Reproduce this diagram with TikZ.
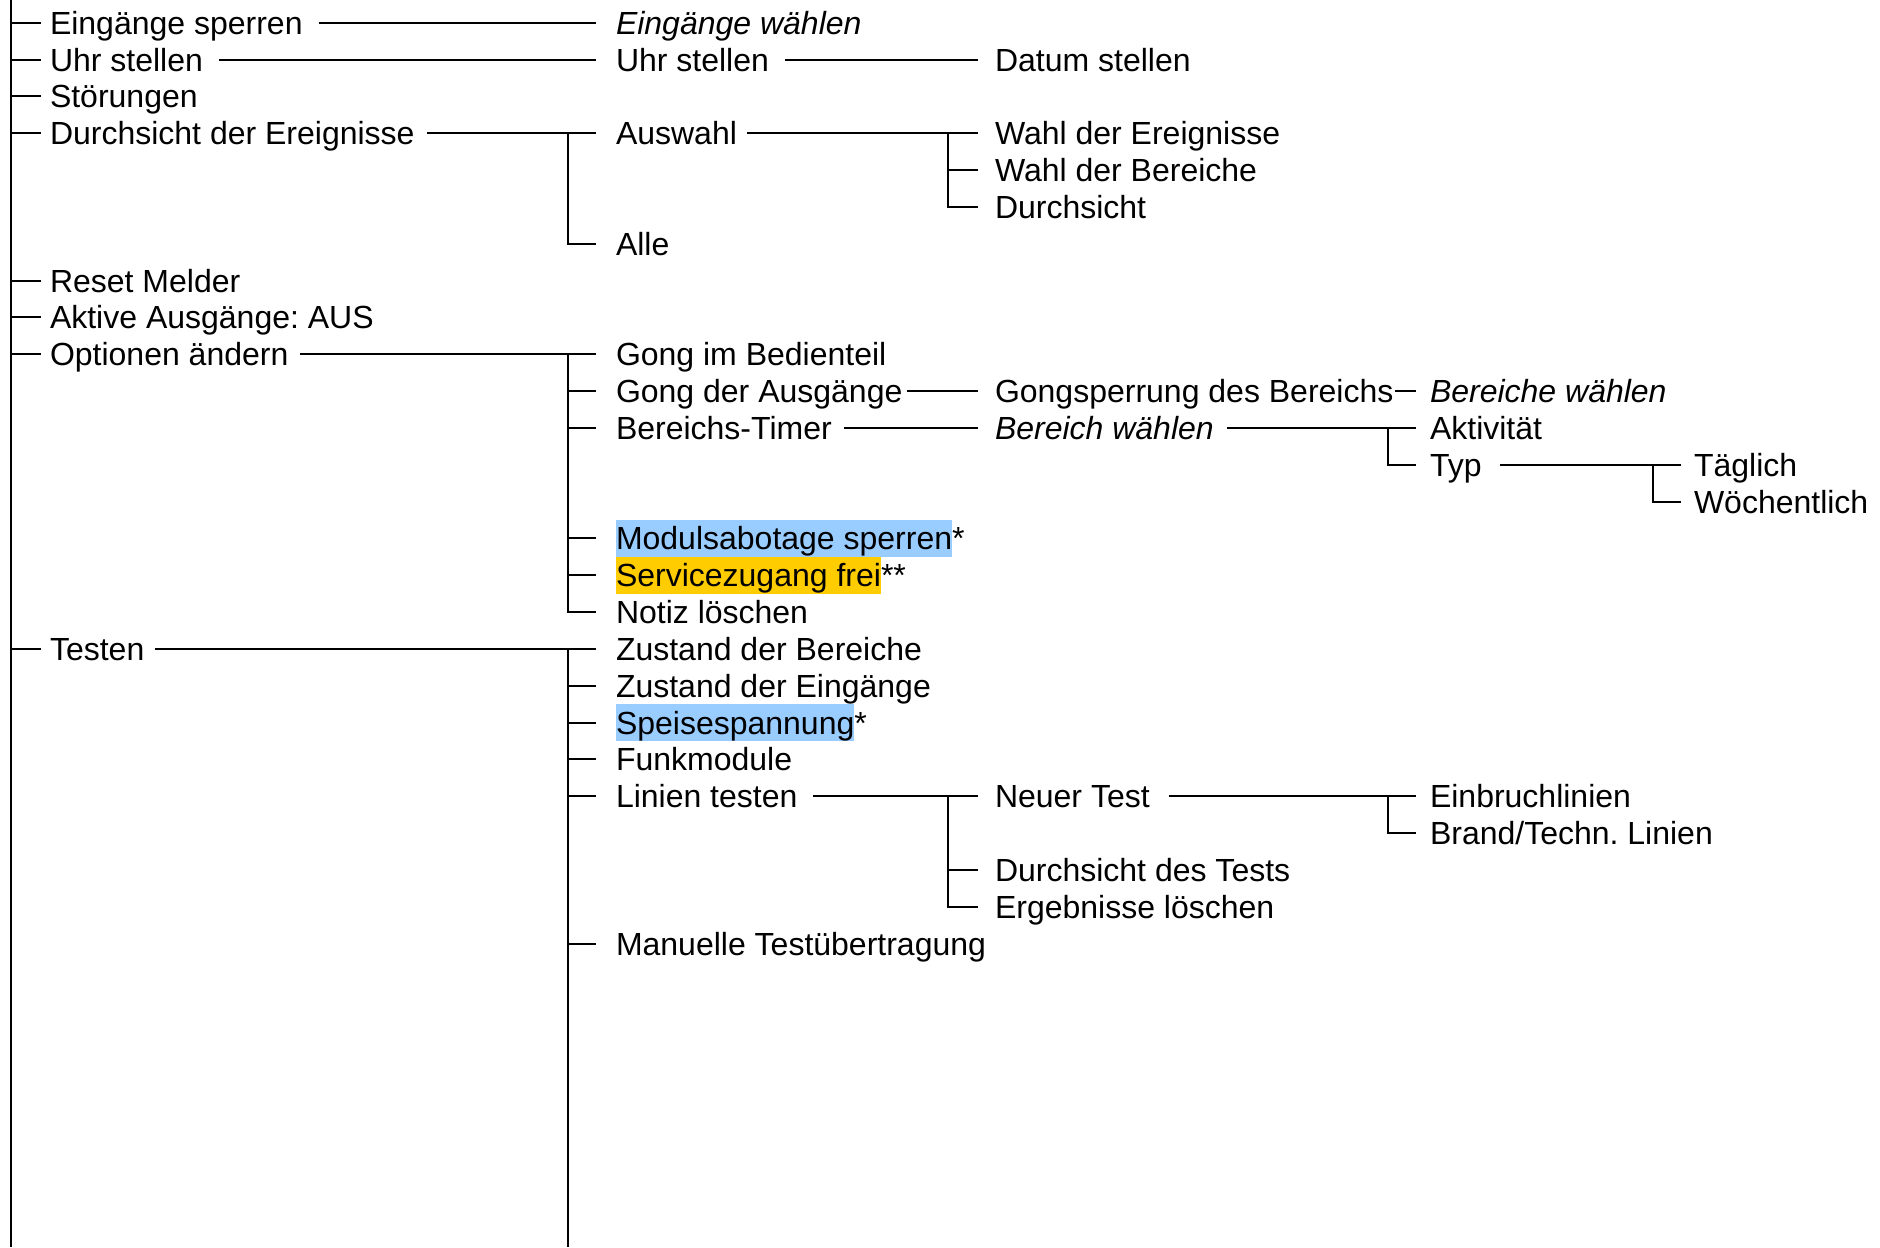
\documentclass[tikz,border=0pt]{standalone}
\usepackage{fontspec}
\setmainfont{Liberation Sans}
\frenchspacing
\definecolor{hlblue}{HTML}{99CCFF}
\definecolor{hlgold}{HTML}{FFCC00}
\newcommand{\hlbox}[2]{{\setlength{\fboxsep}{0pt}\colorbox{#1}{\rule[-7pt]{0pt}{36.9pt}#2}}}

\begin{document}
\begin{tikzpicture}[x=1pt,y=-36.83pt,line width=2pt,
  item/.style={anchor=west,inner sep=0pt,text height=29.85pt,text depth=6.95pt,font=\fontsize{32}{38}\selectfont},
  itemit/.style={item,font=\fontsize{32}{38}\selectfont\itshape}]
  \useasboundingbox (0,-0.619) rectangle (1880,33.24);
  % x of the bars, top and bottom edge
  \coordinate (b1) at (11,0);
  \coordinate (b2) at (568,0);
  \coordinate (b3) at (948,0);
  \coordinate (b4) at (1388,0);
  \coordinate (b5) at (1653,0);
  \coordinate (top) at (0,-0.619);
  \coordinate (bot) at (0,33.24);

  % main menu
  \node[item] (esperr) at (49,0) {Eingänge sperren};
  \node[item] (uhr) at (49,1) {Uhr stellen};
  \node[item] (stoer) at (49,2) {Störungen};
  \node[item] (durchs) at (49,3) {Durchsicht der Ereignisse};
  \node[item] (reset) at (49,7) {Reset Melder};
  \node[item] (aktiv) at (49,8) {Aktive Ausgänge: AUS};
  \node[item] (optn) at (49,9) {Optionen ändern};
  \node[item] (testen) at (49,17) {Testen};

  % second level
  \node[itemit] (ewaehl) at (615,0) {Eingänge wählen};
  \node[item] (uhrb) at (615,1) {Uhr stellen};
  \node[item] (auswahl) at (615,3) {Auswahl};
  \node[item] (alle) at (615,6) {Alle};
  \node[item] (gongbed) at (615,9) {Gong im Bedienteil};
  \node[item] (gongaus) at (615,10) {Gong der Ausgänge};
  \node[item] (timer) at (615,11) {Bereichs-Timer};
  \node[item] (modsab) at (615,14) {\hlbox{hlblue}{Modulsabotage sperren}*};
  \node[item] (service) at (615,15) {\hlbox{hlgold}{Servicezugang frei}**};
  \node[item] (notiz) at (615,16) {Notiz löschen};
  \node[item] (zber) at (615,17) {Zustand der Bereiche};
  \node[item] (zein) at (615,18) {Zustand der Eingänge};
  \node[item] (speise) at (615,19) {\hlbox{hlblue}{Speisespannung}*};
  \node[item] (funk) at (615,20) {Funkmodule};
  \node[item] (linien) at (615,21) {Linien testen};
  \node[item] (manuell) at (615,25) {Manuelle Testübertragung};

  % third level
  \node[item] (datum) at (994,1) {Datum stellen};
  \node[item] (wahlereig) at (994,3) {Wahl der Ereignisse};
  \node[item] (wahlber) at (994,4) {Wahl der Bereiche};
  \node[item] (durchsicht) at (994,5) {Durchsicht};
  \node[item] (gongsp) at (994,10) {Gongsperrung des Bereichs};
  \node[itemit] (berw) at (994,11) {Bereich wählen};
  \node[item] (neu) at (994,21) {Neuer Test};
  \node[item] (durchtest) at (994,23) {Durchsicht des Tests};
  \node[item] (ergeb) at (994,24) {Ergebnisse löschen};

  % fourth and fifth level
  \node[itemit] (berew) at (1429,10) {Bereiche wählen};
  \node[item] (aktivit) at (1429,11) {Aktivität};
  \node[item] (typ) at (1429,12) {Typ};
  \node[item] (einbruch) at (1429,21) {Einbruchlinien};
  \node[item] (brand) at (1429,22) {Brand/Techn. Linien};
  \node[item] (taeglich) at (1693,12) {Täglich};
  \node[item] (woech) at (1693,13) {Wöchentlich};

  % trunk
  \draw (b1 |- top)--(b1 |- bot);
  \foreach \n in {esperr,uhr,stoer,durchs,reset,aktiv,optn,testen}
    \draw (\n -| b1)--([xshift=-8pt]\n.west);

  % straight links
  \draw ([xshift=15pt]esperr.east)--([xshift=-19pt]ewaehl.west);
  \draw ([xshift=15pt]uhr.east)--([xshift=-19pt]uhrb.west);
  \draw ([xshift=15pt]uhrb.east)--([xshift=-16pt]datum.west);
  \draw ([xshift=4pt]gongaus.east)--([xshift=-16pt]gongsp.west);
  \draw ([xshift=1pt]gongsp.east)--([xshift=-13pt]berew.west);
  \draw ([xshift=11pt]timer.east)--([xshift=-16pt]berw.west);

  % branches
  \draw ([xshift=11pt]durchs.east)--([xshift=-19pt]auswahl.west)
    (auswahl -| b2) |- ([xshift=-19pt]alle.west);
  \draw ([xshift=9pt]auswahl.east)--([xshift=-16pt]wahlereig.west)
    (wahlereig -| b3) |- ([xshift=-16pt]durchsicht.west)
    (wahlber -| b3)--([xshift=-16pt]wahlber.west);
  \draw ([xshift=11pt]optn.east)--([xshift=-19pt]gongbed.west)
    (gongbed -| b2) |- ([xshift=-19pt]notiz.west);
  \foreach \n in {gongaus,timer,modsab,service}
    \draw (\n -| b2)--([xshift=-19pt]\n.west);
  \draw ([xshift=12pt]berw.east)--([xshift=-13pt]aktivit.west)
    (aktivit -| b4) |- ([xshift=-13pt]typ.west);
  \draw ([xshift=17pt]typ.east)--([xshift=-12pt]taeglich.west)
    (taeglich -| b5) |- ([xshift=-12pt]woech.west);
  \draw ([xshift=10pt]testen.east)--([xshift=-19pt]zber.west)
    (zber -| b2)--(b2 |- bot);
  \foreach \n in {zein,speise,funk,linien,manuell}
    \draw (\n -| b2)--([xshift=-19pt]\n.west);
  \draw ([xshift=15pt]linien.east)--([xshift=-16pt]neu.west)
    (neu -| b3) |- ([xshift=-16pt]ergeb.west)
    (durchtest -| b3)--([xshift=-16pt]durchtest.west);
  \draw ([xshift=18pt]neu.east)--([xshift=-13pt]einbruch.west)
    (einbruch -| b4) |- ([xshift=-13pt]brand.west);
\end{tikzpicture}
\end{document}
